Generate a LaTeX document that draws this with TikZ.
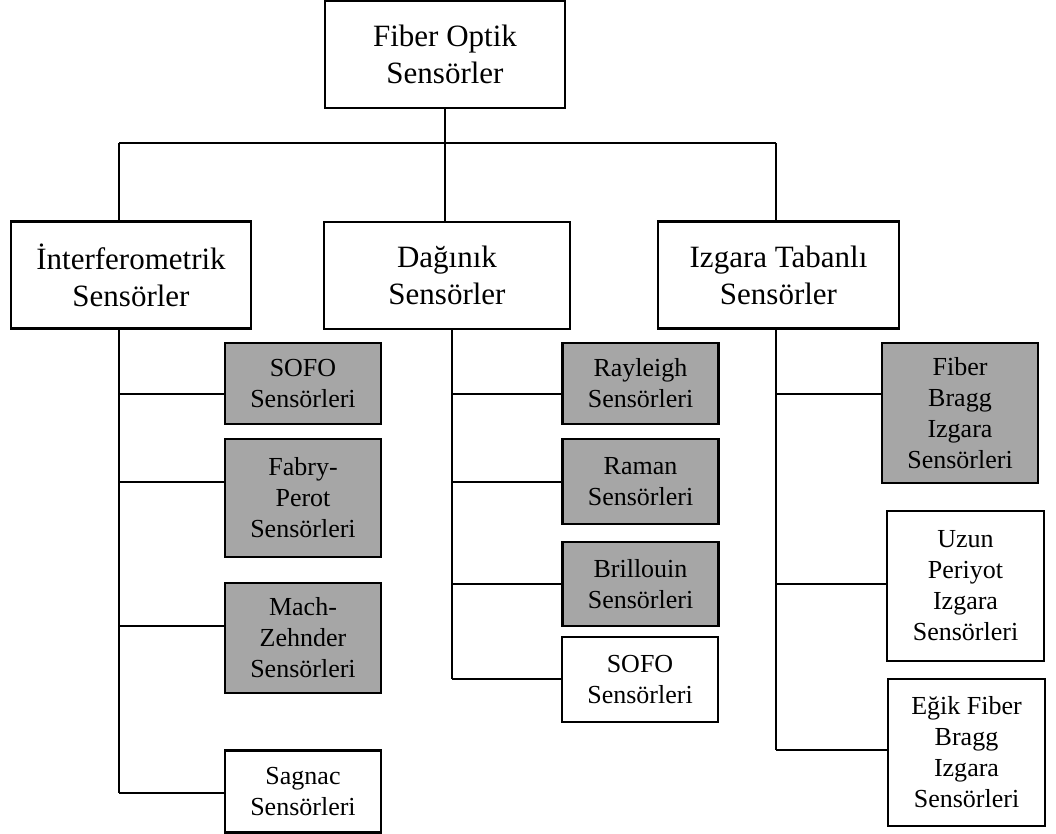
\documentclass[tikz,border=0pt]{standalone}
\usepackage{fontspec}
\setmainfont{Liberation Serif}
\definecolor{boxgray}{RGB}{166,166,166}
\begin{document}
\begin{tikzpicture} [
                x=1pt, y=-1pt,
                box/.style={draw,line width=2.5pt,align=center,inner sep=0pt},
                main/.style={box,font=\fontsize{31}{37}\selectfont,minimum height=107pt},
                leaf/.style={box,font=\fontsize{26}{31}\selectfont,minimum width=156pt},
                shaded/.style={leaf,fill=boxgray},
                link/.style = {draw,line width=2.5pt,-},
            ]
            \useasboundingbox (0,0) rectangle (1056,834);
            % Main categories
            \node[main,minimum width=240pt] (root) at (445,54.5) {Fiber Optik\\Sensörler};
            \node[main,minimum width=240pt] (interf) at (131,275) {İnterferometrik\\Sensörler};
            \node[main,minimum width=246pt] (dagin) at (447,275.5) {Dağınık\\Sensörler};
            \node[main,minimum width=241pt] (izgara) at (778.5,275) {Izgara Tabanlı\\Sensörler};
            % Sensor types
            \node[shaded,minimum height=81pt] (sofoA) at (303,383.5) {SOFO\\Sensörleri};
            \node[shaded,minimum height=118pt] (fabry) at (303,498) {Fabry-\\Perot\\Sensörleri};
            \node[shaded,minimum height=110pt] (mach) at (303,638) {Mach-\\Zehnder\\Sensörleri};
            \node[leaf,minimum height=82pt] (sagnac) at (303,791.5) {Sagnac\\Sensörleri};
            \node[shaded,minimum height=81pt] (rayleigh) at (640.5,383.5) {Rayleigh\\Sensörleri};
            \node[shaded,minimum height=85pt] (raman) at (640.5,481.5) {Raman\\Sensörleri};
            \node[shaded,minimum height=84pt] (brill) at (640.5,584) {Brillouin\\Sensörleri};
            \node[leaf,minimum height=85pt] (sofoB) at (640,679.5) {SOFO\\Sensörleri};
            \node[shaded,minimum height=140pt] (fbg) at (960,413) {Fiber\\Bragg\\Izgara\\Sensörleri};
            \node[leaf,minimum width=157pt,minimum height=150pt] (uzun) at (965.5,586) {Uzun\\Periyot\\Izgara\\Sensörleri};
            \node[leaf,minimum width=157pt,minimum height=147pt] (egik) at (966.5,752.5) {Eğik Fiber\\Bragg\\Izgara\\Sensörleri};
            % Top level bar
            \coordinate (barL) at (119,143);
            \coordinate (barR) at (776,143);
            \path[link] (root.south) -- (root.south |- barL);
            \path[link] (barL) -- (barR);
            \path[link] (barL) -- (barL |- interf.north);
            \path[link] (root.south |- barL) -- (root.south |- dagin.north);
            \path[link] (barR) -- (barR |- izgara.north);
            % Branches to the sensor types
            \foreach \name/\tx/\ty in {
                    sofoA/119/394, fabry/119/482, mach/119/626, sagnac/119/793,
                    rayleigh/452/394, raman/452/482, brill/452/584, sofoB/452/679,
                    fbg/776/394, uzun/776/584, egik/776/750}
                {
                \coordinate (t-\name) at (\tx,\ty);
                \path[link] (t-\name) -- (t-\name -| \name.west);
                }
            \path[link] (interf.south -| t-sofoA) -- (t-sagnac);
            \path[link] (dagin.south -| t-rayleigh) -- (t-sofoB);
            \path[link] (izgara.south -| t-fbg) -- (t-egik);
        \end{tikzpicture}
\end{document}
